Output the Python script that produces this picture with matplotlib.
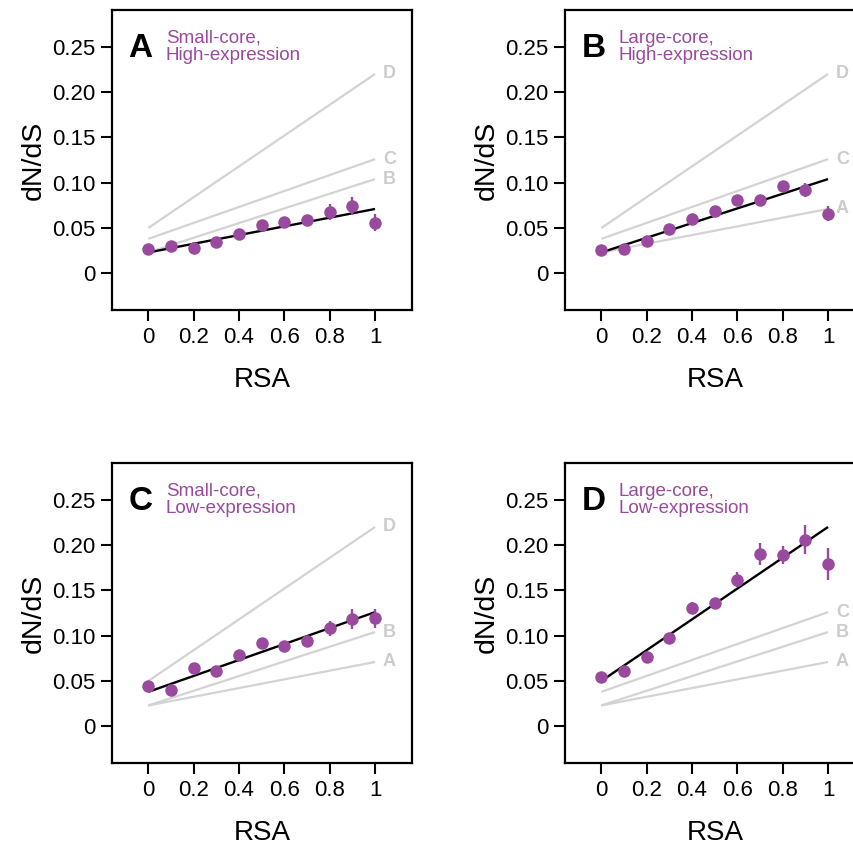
import matplotlib
matplotlib.use('Agg')
import matplotlib.pyplot as plt

plt.rcParams['font.family'] = ['Liberation Sans', 'DejaVu Sans']

# RSA bins
rsa = [0, 0.1, 0.2, 0.3, 0.4, 0.5, 0.6, 0.7, 0.8, 0.9, 1.0]

# mean dN/dS per RSA bin
dnds_A = [0.027, 0.030, 0.028, 0.034, 0.043, 0.053, 0.057, 0.059, 0.068, 0.074, 0.056]
dnds_B = [0.026, 0.027, 0.036, 0.049, 0.060, 0.069, 0.081, 0.081, 0.096, 0.092, 0.066]
dnds_C = [0.045, 0.040, 0.064, 0.061, 0.079, 0.092, 0.089, 0.094, 0.108, 0.118, 0.119]
dnds_D = [0.054, 0.061, 0.076, 0.097, 0.131, 0.136, 0.162, 0.190, 0.189, 0.206, 0.179]

# standard errors
err_A = [0.001, 0.001, 0.001, 0.001, 0.002, 0.002, 0.003, 0.004, 0.009, 0.010, 0.009]
err_B = [0.001, 0.001, 0.001, 0.001, 0.002, 0.002, 0.002, 0.003, 0.005, 0.008, 0.008]
err_C = [0.001, 0.001, 0.001, 0.002, 0.002, 0.002, 0.003, 0.004, 0.008, 0.011, 0.011]
err_D = [0.002, 0.002, 0.003, 0.004, 0.006, 0.005, 0.008, 0.012, 0.010, 0.016, 0.018]

# fitted regression lines (value at RSA=0 and RSA=1)
fit_start = {'A': 0.023, 'B': 0.023, 'C': 0.038, 'D': 0.050}
fit_end = {'A': 0.071, 'B': 0.104, 'C': 0.126, 'D': 0.220}

titles = {'A': 'Small-core,\nHigh-expression',
          'B': 'Large-core,\nHigh-expression',
          'C': 'Small-core,\nLow-expression',
          'D': 'Large-core,\nLow-expression'}
means = {'A': dnds_A, 'B': dnds_B, 'C': dnds_C, 'D': dnds_D}
errs = {'A': err_A, 'B': err_B, 'C': err_C, 'D': err_D}

purple = '#9A4A9E'
gray = '#D3D3D3'
gray_text = '#CCCCCC'

W, H = 854, 847
fig = plt.figure(figsize=(W / 100, H / 100), dpi=100)

# axes boxes in pixels: left, top
boxes = {'A': (112, 10), 'B': (565, 10), 'C': (112, 463), 'D': (565, 463)}
bw, bh = 300, 300

yticks = [0, 0.05, 0.10, 0.15, 0.20, 0.25]
ytick_labels = ['0', '0.05', '0.10', '0.15', '0.20', '0.25']
xticks = [0, 0.2, 0.4, 0.6, 0.8, 1]
xtick_labels = ['0', '0.2', '0.4', '0.6', '0.8', '1']

for key, (left, top) in boxes.items():
    ax = fig.add_axes([left / W, 1 - (top + bh) / H, bw / W, bh / H])
    ax.set_xlim(-0.16, 1.163)
    ax.set_ylim(-0.0405, 0.2906)

    # other panels' fits in gray
    for other in ['A', 'B', 'C', 'D']:
        if other == key:
            continue
        ax.plot([0, 1], [fit_start[other], fit_end[other]], color=gray, lw=1.6,
                solid_capstyle='butt', zorder=1)
        ax.text(1.035, fit_end[other], other, color=gray_text, fontsize=13,
                fontweight='bold', ha='left', va='center', zorder=1)

    ax.plot([0, 1], [fit_start[key], fit_end[key]], color='black', lw=1.7,
            solid_capstyle='butt', zorder=2)
    ax.errorbar(rsa, means[key], yerr=errs[key], fmt='o', color=purple,
                ms=8, elinewidth=1.7, capsize=0, zorder=3)

    ax.text(0.055, 0.872, key, transform=ax.transAxes, fontsize=24,
            fontweight='bold', ha='left', va='center')
    ax.text(0.18, 0.877, titles[key], transform=ax.transAxes, fontsize=13.5,
            color=purple, ha='left', va='center', linespacing=1.05)

    ax.set_xticks(xticks)
    ax.set_xticklabels(xtick_labels)
    ax.set_yticks(yticks)
    ax.set_yticklabels(ytick_labels)
    ax.tick_params(direction='out', length=8, width=1.5, labelsize=16, pad=4)
    for sp in ax.spines.values():
        sp.set_linewidth(1.6)
    ax.set_xlabel('RSA', fontsize=20, labelpad=14)
    ax.set_ylabel('dN/dS', fontsize=20.5, labelpad=4)

fig.savefig('out.png', dpi=100)
